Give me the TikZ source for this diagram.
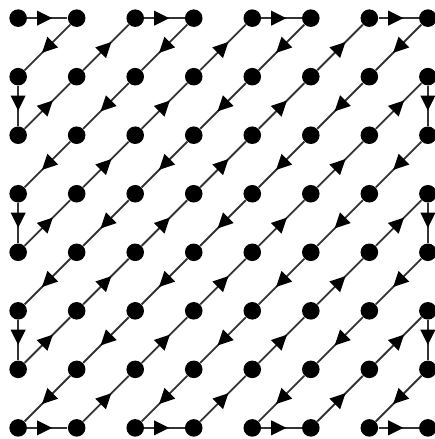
\documentclass[tikz,border=0pt]{standalone}
\usepackage{tikz}
\usetikzlibrary{arrows.meta, decorations.markings}
\tikzset{
  dot/.style={circle, fill=black, inner sep=0pt, minimum size=0.3cm},
  zig/.style={line width=0.9pt, draw=black!80,
              postaction={decorate},
              decoration={markings, mark=at position 0.62 with
                {\arrow[black]{Triangle[length=2.6mm, width=2.5mm]}}}},
}

\begin{document}
\begin{tikzpicture}
  \useasboundingbox (-0.31,0.31) rectangle (7.12,-7.19);
  % 8x8 grid of samples
  \foreach \c in {0,...,7}
    \foreach \r in {0,...,7}
      \node[dot] (d\c-\r) at (\c,-\r) {};
  % zigzag scan order
  \foreach \p [remember=\p as \q (initially 0-0)] in {
      1-0,0-1,0-2,1-1,2-0,3-0,2-1,1-2,0-3,0-4,1-3,2-2,3-1,4-0,5-0,
      4-1,3-2,2-3,1-4,0-5,0-6,1-5,2-4,3-3,4-2,5-1,6-0,7-0,6-1,5-2,
      4-3,3-4,2-5,1-6,0-7,1-7,2-6,3-5,4-4,5-3,6-2,7-1,7-2,6-3,5-4,
      4-5,3-6,2-7,3-7,4-6,5-5,6-4,7-3,7-4,6-5,5-6,4-7,5-7,6-6,7-5,
      7-6,6-7,7-7}
    \draw[zig] (d\q) -- (d\p);
\end{tikzpicture}
\end{document}
